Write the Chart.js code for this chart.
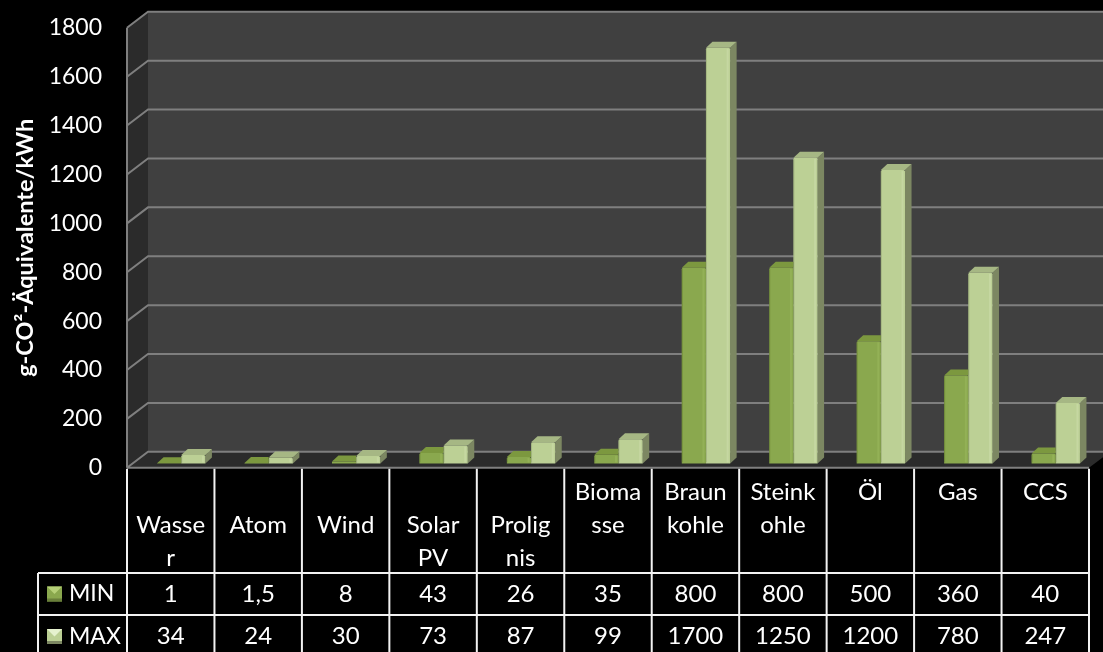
<!DOCTYPE html>
<html>
<head>
<meta charset="utf-8">
<title>g-CO²-Äquivalente/kWh</title>
<style>
  html, body { margin: 0; padding: 0; background: #000; overflow: hidden; }
  #wrap { position: relative; width: 1103px; height: 652px; }
</style>
<script src="https://cdn.jsdelivr.net/npm/chart.js@4"></script>
</head>
<body>
<div id="wrap"><canvas id="myChart" width="1103" height="652"></canvas></div>
<script>
// leading blank entries push the text down inside the three line cell
const categories = [
  ['', 'Wasse', 'r'], ['', 'Atom'], ['', 'Wind'], ['', 'Solar', 'PV'], ['', 'Prolig', 'nis'],
  ['Bioma', 'sse'], ['Braun', 'kohle'], ['Steink', 'ohle'], ['Öl'], ['Gas'], ['CCS']
];
const minValues = [1, 1.5, 8, 43, 26, 35, 800, 800, 500, 360, 40];
const maxValues = [34, 24, 30, 73, 87, 99, 1700, 1250, 1200, 780, 247];
const yTicks = [0, 200, 400, 600, 800, 1000, 1200, 1400, 1600, 1800];

const FONT = 'Lato, "Noto Sans", sans-serif';

// room depth of the 3d look
const depthX = 21, depthY = 16;
// where the bars stand on the floor, and how deep they are
const barShiftX = 10.5, barShiftY = -4.4;
const barDepthX = 6.5, barDepthY = 6;

const styles = [
  { face: '#8aa84e', side: '#697f3a', top: '#7c983f', light: '#b5d077', dark: '#5f7a2a' },
  { face: '#bcd095', side: '#7c8762', top: '#a6b784', light: '#e6f2cf', dark: '#8f9f70' }
];

const room3d = {
  id: 'room3d',
  beforeDraw(chart) {
    const c = chart.ctx, a = chart.chartArea, y = chart.scales.y;
    c.save();
    c.fillStyle = '#000';
    c.fillRect(0, 0, chart.width, chart.height);

    // back wall
    c.fillStyle = '#404040';
    c.fillRect(a.left + depthX, a.top - depthY, a.right - a.left, a.bottom - a.top);
    // side wall
    c.fillStyle = '#2b2b2b';
    c.beginPath();
    c.moveTo(a.left, a.top);
    c.lineTo(a.left + depthX, a.top - depthY);
    c.lineTo(a.left + depthX, a.bottom - depthY);
    c.lineTo(a.left, a.bottom);
    c.closePath();
    c.fill();
    // floor
    c.beginPath();
    c.moveTo(a.left, a.bottom);
    c.lineTo(a.left + depthX, a.bottom - depthY);
    c.lineTo(a.right + depthX, a.bottom - depthY);
    c.lineTo(a.right, a.bottom);
    c.closePath();
    c.fill();

    // grid lines run along the side wall and the back wall
    c.strokeStyle = '#7f7f7f';
    c.lineWidth = 2;
    yTicks.forEach(v => {
      const py = y.getPixelForValue(v);
      c.beginPath();
      c.moveTo(a.left, py);
      c.lineTo(a.left + depthX, py - depthY);
      c.lineTo(a.right + depthX, py - depthY);
      if (v === 0) {
        c.moveTo(a.right, py);
        c.lineTo(a.left, py);
      }
      c.stroke();
    });
    c.beginPath();
    c.moveTo(a.left, a.top);
    c.lineTo(a.left, a.bottom);
    c.stroke();
    c.restore();
  },
  beforeDatasetDraw(chart, args) {
    const c = chart.ctx, st = styles[args.index];
    // the taller MAX bar hides the right side of its MIN neighbour
    const hidden = args.index === 0;
    c.save();
    c.translate(barShiftX, barShiftY);
    args.meta.data.forEach(bar => {
      const x1 = bar.x + bar.width / 2, x0 = bar.x - bar.width / 2;
      const topRight = hidden ? x1 : x1 + barDepthX;
      if (!hidden) {
        c.fillStyle = st.side;
        c.beginPath();
        c.moveTo(x1, bar.y);
        c.lineTo(x1 + barDepthX, bar.y - barDepthY);
        c.lineTo(x1 + barDepthX, bar.base - barDepthY);
        c.lineTo(x1, bar.base);
        c.closePath();
        c.fill();
      }
      c.fillStyle = st.top;
      c.beginPath();
      c.moveTo(x0, bar.y);
      c.lineTo(x0 + barDepthX, bar.y - barDepthY);
      c.lineTo(topRight, bar.y - barDepthY);
      c.lineTo(x1, bar.y);
      c.closePath();
      c.fill();
    });
  },
  afterDatasetDraw(chart, args) {
    const c = chart.ctx, st = styles[args.index];
    // soft bevel strips on the front faces
    args.meta.data.forEach(bar => {
      const x1 = bar.x + bar.width / 2, x0 = bar.x - bar.width / 2;
      const h = bar.base - bar.y;
      if (h < 4) return;
      c.globalAlpha = 0.22;
      c.fillStyle = st.light;
      c.fillRect(x1 - 3.5, bar.y + 1, 2, h - 2);
      c.globalAlpha = 0.5;
      c.fillStyle = st.dark;
      c.fillRect(x0, bar.y + 1, 1, h - 2);
      c.globalAlpha = 1;
    });
    c.restore();
  },
  afterDraw(chart) {
    const c = chart.ctx, a = chart.chartArea, x = chart.scales.x;
    const row1 = 573, row2 = 615, bottom = chart.height, legendLeft = 38;
    const colW = (a.right - a.left) / categories.length;
    c.save();

    // table rules
    c.strokeStyle = '#f2f2f2';
    c.lineWidth = 2;
    c.beginPath();
    for (let i = 0; i <= categories.length; i++) {
      const px = a.left + i * colW;
      c.moveTo(px, a.bottom + 1);
      c.lineTo(px, bottom);
    }
    [row1, row2].forEach(py => {
      c.moveTo(legendLeft, py);
      c.lineTo(a.right, py);
    });
    c.moveTo(legendLeft, row1);
    c.lineTo(legendLeft, bottom);
    c.stroke();

    // value rows
    c.fillStyle = '#fff';
    c.font = '24px ' + FONT;
    c.textBaseline = 'middle';
    c.textAlign = 'center';
    chart.data.datasets.forEach((ds, d) => {
      const py = d === 0 ? 594 : 636.5;
      ds.data.forEach((v, i) => {
        c.fillText(String(v).replace('.', ','), x.getPixelForValue(i), py);
      });
    });

    // row headers with their colour keys
    c.textAlign = 'left';
    c.font = '23px ' + FONT;
    chart.data.datasets.forEach((ds, d) => {
      const py = d === 0 ? 594 : 636.5;
      const st = styles[d];
      const kx = 47, ky = py - 7.5, ks = 15;
      c.fillStyle = st.face;
      c.fillRect(kx, ky, ks, ks);
      c.fillStyle = st.side;
      c.fillRect(kx, ky + ks - 3, ks, 3);
      c.fillStyle = st.light;
      c.beginPath();
      c.moveTo(kx, ky);
      c.lineTo(kx + ks, ky);
      c.lineTo(kx + ks / 2, ky + ks / 2);
      c.closePath();
      c.fill();
      c.fillStyle = '#fff';
      c.fillText(ds.label, 69, py);
    });
    c.restore();
  }
};

const ctx = document.getElementById('myChart');
new Chart(ctx, {
  type: 'bar',
  data: {
    labels: categories,
    datasets: [
      { label: 'MIN', data: minValues, backgroundColor: styles[0].face, clip: false, borderRadius: 1.5 },
      { label: 'MAX', data: maxValues, backgroundColor: styles[1].face, clip: false, borderRadius: 1.5 }
    ]
  },
  options: {
    responsive: false,
    animation: false,
    layout: { padding: { top: 27.8, right: 14, left: 0, bottom: 0 } },
    datasets: { bar: { categoryPercentage: 0.553, barPercentage: 1 } },
    plugins: { legend: { display: false }, tooltip: { enabled: false } },
    scales: {
      x: {
        afterFit(scale) { scale.height = 184.2; scale.paddingLeft = 0; scale.paddingRight = 0; },
        grid: { display: false },
        border: { display: false },
        ticks: {
          color: '#fff',
          autoSkip: false,
          maxRotation: 0,
          minRotation: 0,
          padding: 0,
          font: { family: FONT, size: 24, lineHeight: '33px' }
        }
      },
      y: {
        min: 0,
        max: 1800,
        afterFit(scale) { scale.width = 127; scale.paddingTop = 0; scale.paddingBottom = 0; },
        afterBuildTicks(scale) { scale.ticks = yTicks.map(v => ({ value: v })); },
        grid: { display: false },
        border: { display: false },
        title: {
          display: true,
          text: 'g-CO²-Äquivalente/kWh',
          color: '#fff',
          padding: { top: 11, bottom: 0 },
          font: { family: FONT, size: 23.5, weight: 'bold' }
        },
        ticks: {
          color: '#fff',
          padding: 17,
          callback: v => String(v),
          font: { family: FONT, size: 23 }
        }
      }
    }
  },
  plugins: [room3d]
});
</script>
</body>
</html>
